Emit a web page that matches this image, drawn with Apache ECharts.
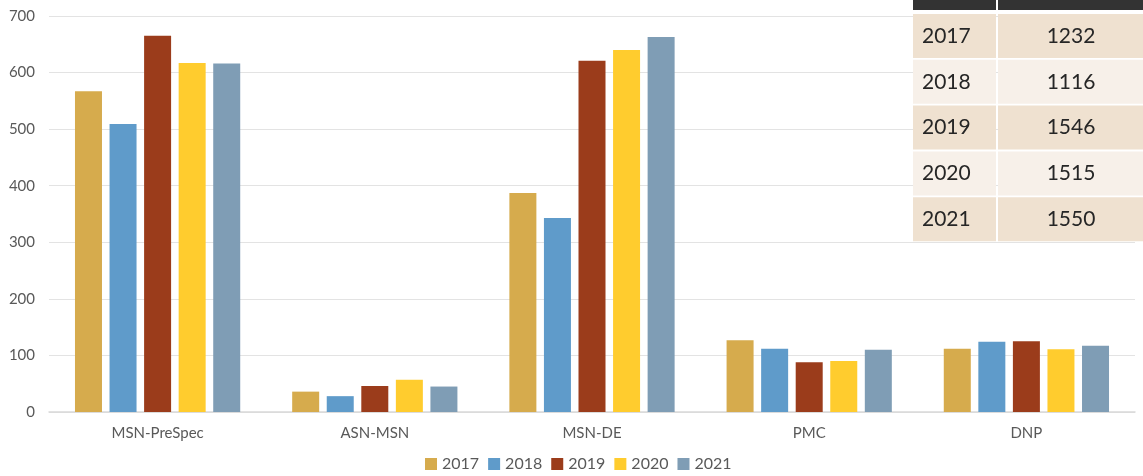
<!DOCTYPE html>
<html>
<head>
<meta charset="utf-8">
<script src="https://cdn.jsdelivr.net/npm/echarts@6/dist/echarts.min.js"></script>
<style>
html,body{margin:0;padding:0;background:#fff;}
#chart{width:1143px;height:476px;}
</style>
</head>
<body>
<div id="chart"></div>
<script>
var categories = ['MSN-PreSpec', 'ASN-MSN', 'MSN-DE', 'PMC', 'DNP'];
var years = ['2017', '2018', '2019', '2020', '2021'];
var v2017 = [567, 36, 387, 127, 112];
var v2018 = [509, 28, 343, 112, 124];
var v2019 = [665, 46, 621, 88, 125];
var v2020 = [617, 57, 640, 90, 111];
var v2021 = [616, 45, 663, 110, 117];
var yTicks = [0, 100, 200, 300, 400, 500, 600, 700];
var tableYears = ['2017', '2018', '2019', '2020', '2021'];
var tableTotals = ['1232', '1116', '1546', '1515', '1550'];

var colors = ['#D6AB4D', '#5F9BCA', '#9B3C1B', '#FFCC2E', '#7F9DB5'];
var seriesData = [v2017, v2018, v2019, v2020, v2021];

var chart = echarts.init(document.getElementById('chart'));

var graphics = [];
var tx = 913, c1w = 83, c2x = 998, c2w = 150;
var rowTop0 = 14, rowStep = 45.8, rowH = 44;
// header row (mostly cut off)
graphics.push({type:'rect', shape:{x:tx, y:-34, width:c1w, height:44}, style:{fill:'#333333'}, z:100});
graphics.push({type:'rect', shape:{x:c2x, y:-34, width:c2w, height:44}, style:{fill:'#333333'}, z:100});
for (var i = 0; i < tableYears.length; i++) {
  var y = rowTop0 + i * rowStep;
  var fill = (i % 2 === 0) ? '#EFE1D0' : '#F7F0E9';
  graphics.push({type:'rect', shape:{x:tx, y:y, width:c1w, height:rowH}, style:{fill:fill}, z:100});
  graphics.push({type:'rect', shape:{x:c2x, y:y, width:c2w, height:rowH}, style:{fill:fill}, z:100});
  graphics.push({type:'text', x:tx + 9, y:y + rowH / 2, z:101,
    style:{text:tableYears[i], fill:'#262626', font:'21px Lato', textVerticalAlign:'middle', textAlign:'left'}});
  graphics.push({type:'text', x:c2x + c2w / 2 - 2, y:y + rowH / 2, z:101,
    style:{text:tableTotals[i], fill:'#262626', font:'21px Lato', textVerticalAlign:'middle', textAlign:'center'}});
}

var series = years.map(function (yr, idx) {
  return {
    name: yr,
    type: 'bar',
    data: seriesData[idx],
    barWidth: 27,
    barGap: '28%',
    itemStyle: {color: colors[idx]},
    emphasis: {disabled: true}
  };
});

chart.setOption({
  animation: false,
  textStyle: {fontFamily: 'Lato'},
  grid: {left: 49, right: 8, top: 16, bottom: 64},
  legend: {
    data: years,
    bottom: -1,
    left: 420,
    itemWidth: 12,
    itemHeight: 12,
    itemGap: 9,
    icon: 'rect',
    textStyle: {color: '#595959', fontSize: 16, fontFamily: 'Lato'}
  },
  xAxis: {
    type: 'category',
    data: categories,
    axisTick: {show: false},
    axisLine: {lineStyle: {color: '#D9D9D9', width: 1.5}},
    axisLabel: {color: '#595959', fontSize: 15, margin: 14, fontFamily: 'Lato'}
  },
  yAxis: {
    type: 'value',
    min: yTicks[0],
    max: yTicks[yTicks.length - 1],
    interval: 100,
    axisLine: {show: false},
    axisTick: {show: false},
    splitLine: {lineStyle: {color: '#E3E3E3', width: 1.2}},
    axisLabel: {color: '#595959', fontSize: 15, margin: 14, fontFamily: 'Lato'}
  },
  series: series,
  graphic: graphics
});
</script>
</body>
</html>
